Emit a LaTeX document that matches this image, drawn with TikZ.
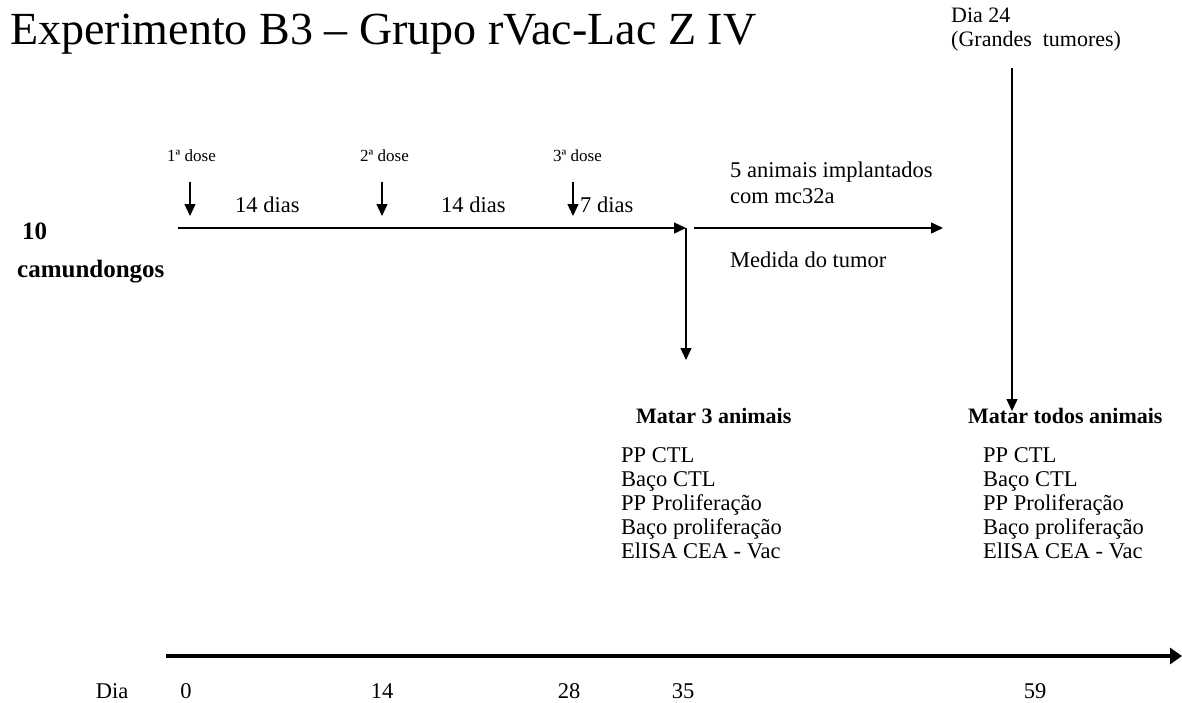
\documentclass[tikz,border=0pt]{standalone}
\usepackage{fontspec}
\setmainfont{Liberation Serif}
\usetikzlibrary{arrows.meta}
\begin{document}
\begin{tikzpicture}[x=1pt,y=-1pt,
  txt/.style={anchor=base west, inner sep=0pt, font=\fontsize{22.5}{24}\selectfont},
  bld/.style={txt, font=\fontsize{22}{24}\selectfont\bfseries},
  big/.style={txt, font=\fontsize{25}{28}\selectfont\bfseries},
  small/.style={anchor=base west, inner sep=0pt, font=\fontsize{17}{19}\selectfont},
  lst/.style={anchor=base west, inner sep=0pt, align=left, font=\fontsize{22.5}{24}\selectfont},
  conn/.style={line width=1.4pt, -{Triangle[length=12pt,width=11pt]}},
  axis/.style={line width=4pt, -{Triangle[length=12pt,width=16pt]}}]
\useasboundingbox[fill=white] (0,0) rectangle (1182,702);

% title
\node[anchor=base west, inner sep=0pt, font=\fontsize{46}{50}\selectfont] (title) at (10,44) {Experimento B3 -- Grupo rVac-Lac Z IV};

% top right (base = last line)
\node[txt, font=\fontsize{22}{24}\selectfont, align=left] (d24) at (951,46) {Dia 24\\(Grandes\ \ tumores)};

% left label
\node[big] (n10) at (22,239) {10};
\node[big] (cam) at (17,277) {camundongos};

% dose labels
\node[small] (dose1) at (167,161) {1ª dose};
\node[small] (dose2) at (360,161) {2ª dose};
\node[small] (dose3) at (553,161) {3ª dose};

% dose arrows
\coordinate (a1) at (190,182); \coordinate (b1) at (190,216);
\coordinate (a2) at (382,182); \coordinate (b2) at (382,216);
\coordinate (a3) at (573,182); \coordinate (b3) at (573,216);
\draw[conn] (a1) -- (b1);
\draw[conn] (a2) -- (b2);
\draw[conn] (a3) -- (b3);

% interval labels
\node[txt] (i1) at (235,212) {14 dias};
\node[txt] (i2) at (441,212) {14 dias};
\node[txt] (i3) at (580,212) {7 dias};

% main timeline
\coordinate (s0) at (178,228);
\coordinate (s35) at (686,228);
\coordinate (k35) at (686,360);
\coordinate (t0) at (694,228);
\coordinate (t1) at (943,228);
\draw[conn] (s0) -- (s35);
\draw[conn] (s35) -- (k35);
\draw[conn] (t0) -- (t1);

\node[txt, align=left, font=\fontsize{22.5}{26}\selectfont] (impl) at (730,203) {5 animais implantados\\com mc32a};
\node[txt] (med) at (730,267) {Medida do tumor};

% right vertical
\coordinate (r0) at (1012,68);
\coordinate (r1) at (1012,411);
\draw[conn] (r0) -- (r1);

% kill blocks (base = last line)
\node[bld] (k3) at (636,423) {Matar 3 animais};
\node[lst] (l3) at (621,558) {PP CTL\\Baço CTL\\PP Proliferação\\Baço proliferação\\ElISA CEA - Vac};
\node[bld] (kall) at (968,423) {Matar todos animais};
\node[lst] (lall) at (983,558) {PP CTL\\Baço CTL\\PP Proliferação\\Baço proliferação\\ElISA CEA - Vac};

% bottom axis
\coordinate (x0) at (166,656);
\coordinate (x1) at (1182,656);
\draw[axis] (x0) -- (x1);
\node[txt, anchor=base] (dia) at (112,698) {Dia};
\node[txt, anchor=base] (z0) at (186,698) {0};
\node[txt, anchor=base] (z14) at (382,698) {14};
\node[txt, anchor=base] (z28) at (569,698) {28};
\node[txt, anchor=base] (z35) at (683,698) {35};
\node[txt, anchor=base] (z59) at (1035,698) {59};
\end{tikzpicture}
\end{document}
